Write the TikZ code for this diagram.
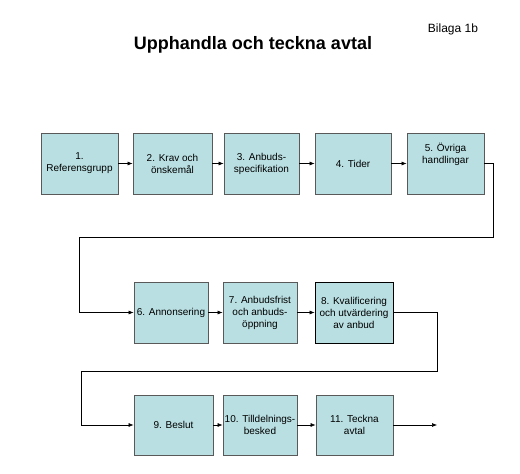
\documentclass[tikz,border=0pt]{standalone}
\usepackage{fontspec}
\setmainfont{Liberation Sans}
\usetikzlibrary{arrows.meta}
\definecolor{boxfill}{RGB}{185,223,226}
\tikzset{
    stepbox/.style = {draw = black!65, line width = 0.8pt, fill = boxfill, minimum width = 76pt, minimum height = 61pt, inner sep = 1pt, align = center, font = \fontsize{10}{12}\selectfont},
    flow/.style = {->, line width = 0.6pt},
    >={Latex[length = 5pt, width = 4pt]}
}
\begin{document}
\begin{tikzpicture}[x = 1pt, y = -1pt]
                        \useasboundingbox (0, 0) rectangle (520, 474);
                        \node [anchor = base, font = \fontsize{18}{20}\selectfont\bfseries] (title) at (253, 49) {Upphandla och teckna avtal};
                        \node [anchor = base, font = \fontsize{12}{14}\selectfont] (bilaga) at (453, 32) {Bilaga 1b};
                        % first row
                        \node [stepbox, minimum width = 77pt] (ref) at (79.5, 163.5) {1.\\Referensgrupp};
                        \node [stepbox, minimum width = 79pt] (krav) at (172.5, 163.5) {2. Krav och\\önskemål};
                        \node [stepbox, minimum width = 75pt] (spec) at (261.5, 163.5) {3. Anbuds-\\specifikation};
                        \node [stepbox] (tider) at (353, 163.5) {4. Tider};
                        \node [stepbox, minimum width = 77pt] (ovriga) at (445.5, 163.5) {};
                        \node [align = center, font = \fontsize{10}{12}\selectfont] (ovrigatext) at (445.5, 154.5) {5. Övriga\\handlingar};
                        % second row
                        \node [stepbox, minimum width = 74pt] (annons) at (171, 312.5) {6. Annonsering};
                        \node [stepbox, minimum width = 74pt] (frist) at (260, 312.5) {7. Anbudsfrist\\och anbuds-\\öppning};
                        \node [stepbox, draw = black, minimum width = 78pt] (kval) at (354, 312.5) {8. Kvalificering\\och utvärdering\\av anbud};
                        % third row
                        \node [stepbox, minimum width = 79pt, minimum height = 60pt] (beslut) at (173.5, 425) {9. Beslut};
                        \node [stepbox, minimum width = 74pt, minimum height = 60pt] (tilldel) at (260, 425) {10. Tilldelnings-\\besked};
                        \node [stepbox, minimum width = 77pt, minimum height = 60pt] (teckna) at (354.5, 425) {11. Teckna\\avtal};
                        \coordinate (slut) at (437, 425);
                        % connectors
                        \draw [flow] (ref) -- (krav);
                        \draw [flow] (krav) -- (spec);
                        \draw [flow] (spec) -- (tider);
                        \draw [flow] (tider) -- (ovriga);
                        \draw [flow] (ovriga.east) -- (493, 163.5) -- (493, 237) -- (79, 237) -- (79, 312.5) -- (annons.west);
                        \draw [flow] (annons) -- (frist);
                        \draw [flow] (frist) -- (kval);
                        \draw [flow] (kval.east) -- (437, 312.5) -- (437, 371) -- (81, 371) -- (81, 425) -- (beslut.west);
                        \draw [flow] (beslut) -- (tilldel);
                        \draw [flow] (tilldel) -- (teckna);
                        \draw [flow] (teckna) -- (slut);
                    \end{tikzpicture}
\end{document}
